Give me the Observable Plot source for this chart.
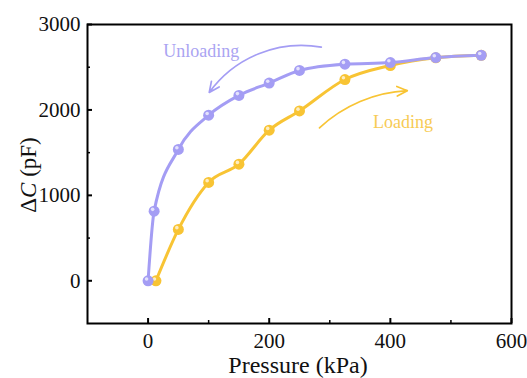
<!DOCTYPE html>
<html><head><meta charset="utf-8">
<script src="https://cdn.jsdelivr.net/npm/d3@7"></script>
<script src="https://cdn.jsdelivr.net/npm/@observablehq/plot@0.6"></script>
<style>body{margin:0;background:#fff;}</style>
</head><body><div id="chart"></div>
<script>
const unloadP = [0, 10, 50, 100, 150, 200, 250, 325, 400, 475, 550];
const unloadC = [0, 815, 1537, 1938, 2170, 2315, 2462, 2535, 2554, 2613, 2640];
const loadP = [13, 50, 100, 150, 200, 250, 325, 400, 475, 550];
const loadC = [0, 601, 1151, 1365, 1763, 1988, 2356, 2520, 2610, 2640];
const xTicks = [0, 200, 400, 600];
const xMinor = [100, 300, 500];
const yTicks = [0, 1000, 2000, 3000];
const yMinor = [500, 1500, 2500];
const purple = "#a49df4";
const yellow = "#f8c434";
const serif = "Liberation Serif";

const unload = unloadP.map((p, i) => ({p, c: unloadC[i]}));
const load = loadP.map((p, i) => ({p, c: loadC[i]}));
const arrowUnload = [{x1: 286, y1: 2735, x2: 101, y2: 2205}];
const arrowLoad = [{x1: 283, y1: 1790, x2: 428, y2: 2225}];
const labels = [
  {x: 88, y: 2688, t: "Unloading", color: "#aaa4f2"},
  {x: 421, y: 1860, t: "Loading", color: "#f7cb55"}
];

const W = 527, H = 378, ML = 87, MT = 24, MR = 16, MB = 55;
const PW = W - ML - MR, PH = H - MT - MB;

const chart = Plot.plot({
  width: W, height: H,
  marginLeft: ML, marginTop: MT, marginRight: MR, marginBottom: MB,
  style: {fontSize: "21px", color: "#111", background: "#fff"},
  x: {domain: [-100, 600]},
  y: {domain: [-500, 3000]},
  marks: [
    Plot.axisX({ticks: xTicks, tickSize: 0, tickPadding: 10, label: null, fontSize: 21, tickFormat: "d"}),
    Plot.axisY({ticks: yTicks, tickSize: 0, tickPadding: 7, label: null, fontSize: 21, tickFormat: "d"}),
    Plot.tickX(xTicks, {x: d => d, insetTop: PH - 5, stroke: "#000", strokeWidth: 2}),
    Plot.tickX(xMinor, {x: d => d, insetTop: PH - 3, stroke: "#000", strokeWidth: 1.5}),
    Plot.tickY(yTicks, {y: d => d, insetRight: PW - 5, stroke: "#000", strokeWidth: 2}),
    Plot.tickY(yMinor, {y: d => d, insetRight: PW - 3, stroke: "#000", strokeWidth: 1.5}),
    Plot.line(load, {x: "p", y: "c", stroke: yellow, strokeWidth: 3, curve: "monotone-x"}),
    Plot.line(unload, {x: "p", y: "c", stroke: purple, strokeWidth: 3, curve: "monotone-x"}),
    Plot.dot(load, {x: "p", y: "c", r: 5.5, fill: yellow}),
    Plot.dot(load, {x: "p", y: "c", r: 1.8, fill: "#fff", fillOpacity: 0.7, dx: -1.5, dy: -1.8}),
    Plot.dot(unload, {x: "p", y: "c", r: 5.5, fill: purple}),
    Plot.dot(unload, {x: "p", y: "c", r: 1.8, fill: "#fff", fillOpacity: 0.7, dx: -1.5, dy: -1.8}),
    Plot.arrow(arrowUnload, {x1: "x1", y1: "y1", x2: "x2", y2: "y2", stroke: purple, bend: -32, strokeWidth: 1.7, headLength: 10, headAngle: 50}),
    Plot.arrow(arrowLoad, {x1: "x1", y1: "y1", x2: "x2", y2: "y2", stroke: yellow, bend: 20, strokeWidth: 1.7, headLength: 10, headAngle: 50}),
    Plot.text(labels, {x: "x", y: "y", text: "t", fill: "color", fontSize: 18, style: "letter-spacing:1.5px"}),
    Plot.frame({stroke: "#000", strokeWidth: 2})
  ]
});
document.getElementById("chart").appendChild(chart);
const svg = d3.select(chart);
svg.selectAll("text").attr("font-family", serif);
svg.selectAll("g").attr("font-family", serif);
svg.attr("font-family", serif);
svg.append("text").attr("x", 298).attr("y", 373).attr("text-anchor", "middle").attr("font-family", serif)
  .attr("font-size", 24).attr("fill", "#111").text("Pressure (kPa)");
const yl = svg.append("text").attr("transform", "translate(36,175) rotate(-90)").attr("font-family", serif)
  .attr("text-anchor", "middle").attr("font-size", 23).attr("fill", "#111");
yl.append("tspan").text("Δ");
yl.append("tspan").attr("font-style", "italic").text("C");
yl.append("tspan").text(" (pF)");
</script></body></html>
